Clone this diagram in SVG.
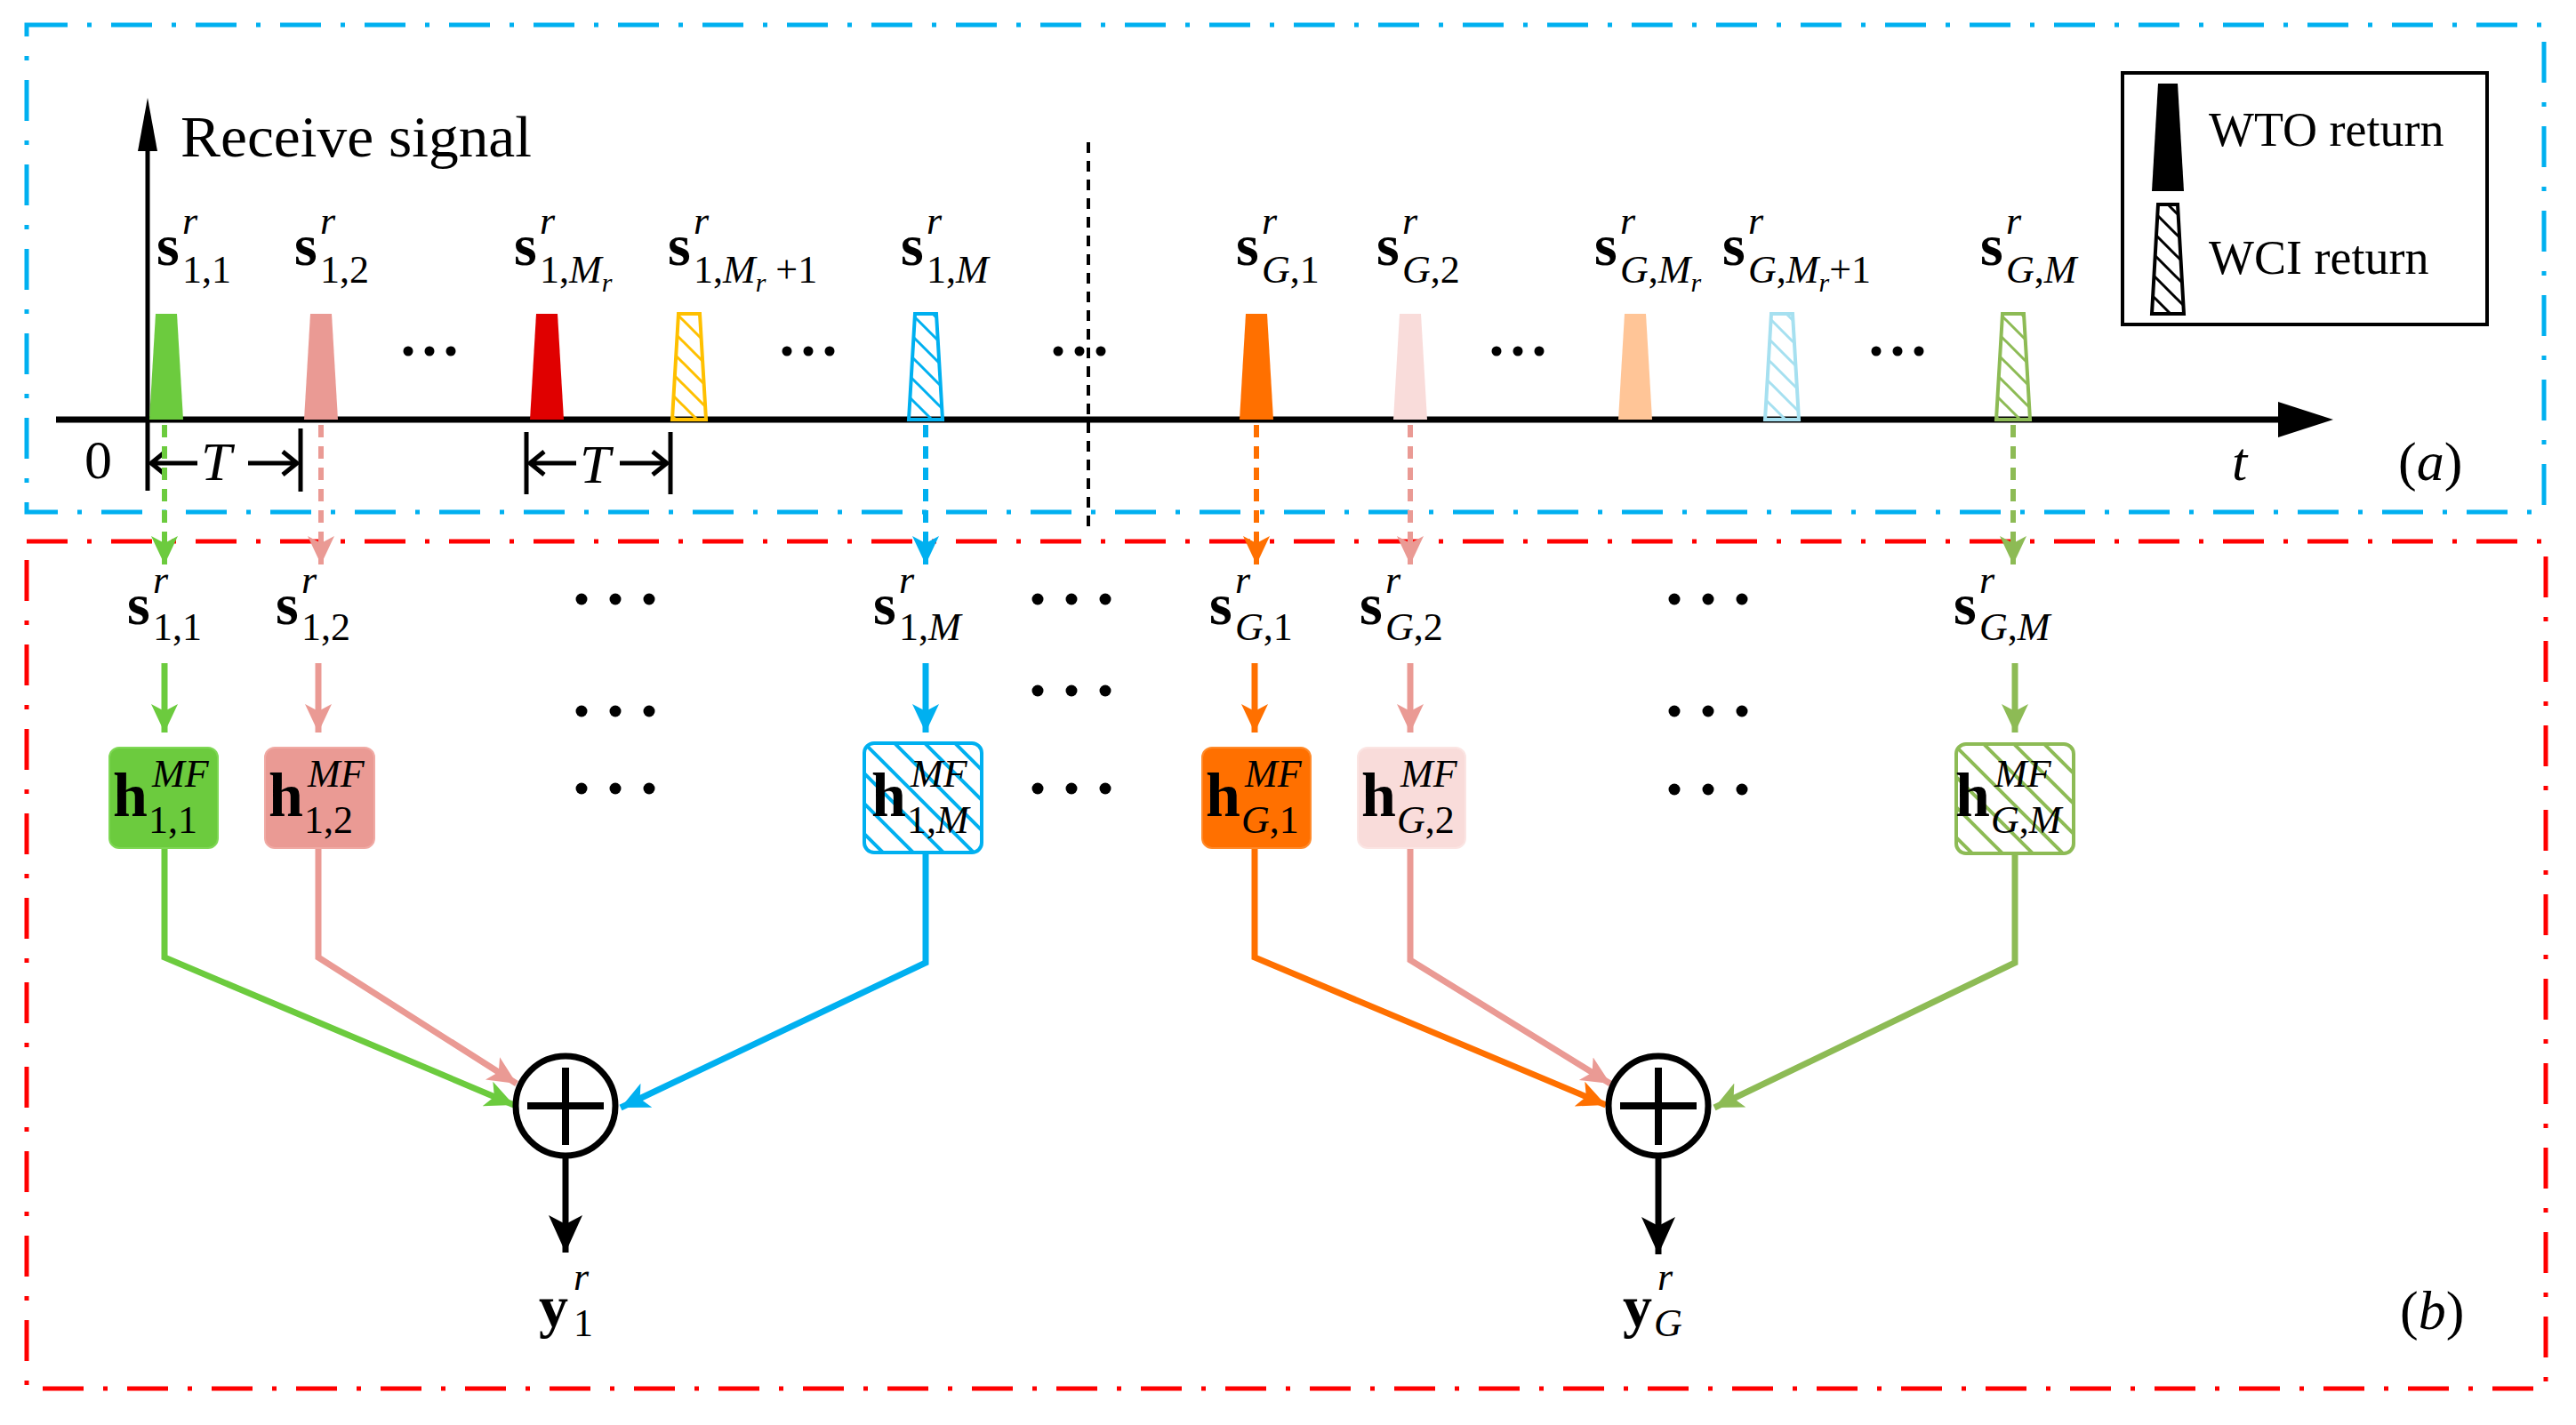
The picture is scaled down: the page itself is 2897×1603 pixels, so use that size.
<svg xmlns="http://www.w3.org/2000/svg" width="2897" height="1603" viewBox="0 0 2897 1603">
<style>
text{font-family:"Liberation Serif","Times New Roman",serif;fill:#000}
.bs{font-weight:bold;font-size:66px}
.bh{font-weight:bold;font-size:70px}
.sm{font-size:44px}
.it{font-style:italic}
.tiny{font-size:30px;font-style:italic}
.reg{font-size:62px}
.frame{fill:none;stroke-width:5;stroke-dasharray:46 22 5 22}
.dl{fill:none;stroke-width:6;stroke-dasharray:14 10}
.sl{fill:none;stroke-width:7}
.dot{fill:#000}
</style>
<defs>
<marker id="mG" markerUnits="userSpaceOnUse" markerWidth="34" markerHeight="32" refX="32" refY="15" orient="auto"><path d="M0,0 L32,15 L0,30 L8,15z" fill="#6CCB3E"/></marker>
<marker id="mP" markerUnits="userSpaceOnUse" markerWidth="34" markerHeight="32" refX="32" refY="15" orient="auto"><path d="M0,0 L32,15 L0,30 L8,15z" fill="#EA9A94"/></marker>
<marker id="mB" markerUnits="userSpaceOnUse" markerWidth="34" markerHeight="32" refX="32" refY="15" orient="auto"><path d="M0,0 L32,15 L0,30 L8,15z" fill="#00B0F0"/></marker>
<marker id="mO" markerUnits="userSpaceOnUse" markerWidth="34" markerHeight="32" refX="32" refY="15" orient="auto"><path d="M0,0 L32,15 L0,30 L8,15z" fill="#FF7000"/></marker>
<marker id="mV" markerUnits="userSpaceOnUse" markerWidth="34" markerHeight="32" refX="32" refY="15" orient="auto"><path d="M0,0 L32,15 L0,30 L8,15z" fill="#8DBB55"/></marker>
<marker id="mK" markerUnits="userSpaceOnUse" markerWidth="44" markerHeight="40" refX="42" refY="19" orient="auto"><path d="M0,0 L42,19 L0,38 L10,19z" fill="#000"/></marker>
<pattern id="hY" patternUnits="userSpaceOnUse" width="24" height="24"><path d="M-6,-6 L30,30 M-6,18 L6,30 M18,-6 L30,6" stroke="#FFC000" stroke-width="3"/></pattern>
<pattern id="hB" patternUnits="userSpaceOnUse" width="24" height="24"><path d="M-6,-6 L30,30 M-6,18 L6,30 M18,-6 L30,6" stroke="#00B0F0" stroke-width="3"/></pattern>
<pattern id="hL" patternUnits="userSpaceOnUse" width="24" height="24"><path d="M-6,-6 L30,30 M-6,18 L6,30 M18,-6 L30,6" stroke="#A6E0F0" stroke-width="3"/></pattern>
<pattern id="hV" patternUnits="userSpaceOnUse" width="24" height="24"><path d="M-6,-6 L30,30 M-6,18 L6,30 M18,-6 L30,6" stroke="#8DBB55" stroke-width="3"/></pattern>
<pattern id="hK" patternUnits="userSpaceOnUse" width="24" height="24"><path d="M-6,-6 L30,30 M-6,18 L6,30 M18,-6 L30,6" stroke="#000" stroke-width="3"/></pattern>
<pattern id="hBb" patternUnits="userSpaceOnUse" width="34" height="34"><path d="M-8,-8 L42,42 M-8,26 L8,42 M26,-8 L42,8" stroke="#00B0F0" stroke-width="4"/></pattern>
<pattern id="hVb" patternUnits="userSpaceOnUse" width="34" height="34"><path d="M-8,-8 L42,42 M-8,26 L8,42 M26,-8 L42,8" stroke="#8DBB55" stroke-width="4"/></pattern>
</defs>

<g id="frames">
<rect class="frame" x="30" y="28" width="2831" height="548" stroke="#00B0F0"/>
<rect class="frame" x="30" y="609" width="2833" height="953" stroke="#FF0000"/>
</g>

<g id="axes">
<line x1="63" y1="472" x2="2570" y2="472" stroke="#000" stroke-width="7"/>
<polygon points="2562,452 2624,472 2562,492" fill="#000"/>
<line x1="166" y1="552" x2="166" y2="160" stroke="#000" stroke-width="5"/>
<polygon points="155,170 166,110 177,170" fill="#000"/>
<text x="203" y="176" class="reg" style="font-size:66px" textLength="395" lengthAdjust="spacingAndGlyphs">Receive signal</text>
<text x="95" y="538" class="reg">0</text>
<text x="2510" y="540" class="reg it">t</text>
<text x="2697" y="540" class="reg">(<tspan class="it">a</tspan>)</text>
<line x1="1224" y1="160" x2="1224" y2="595" stroke="#000" stroke-width="4" stroke-dasharray="12 9"/>
<g stroke="#000" stroke-width="5" fill="none">
<line x1="338" y1="482" x2="338" y2="553"/>
<line x1="592" y1="486" x2="592" y2="556"/><line x1="754" y1="486" x2="754" y2="556"/>
<path d="M222,521 H170 M186,508 L170,521 L186,534"/>
<path d="M279,521 H334 M318,508 L334,521 L318,534"/>
<path d="M648,521 H596 M612,508 L596,521 L612,534"/>
<path d="M697,521 H750 M734,508 L750,521 L734,534"/>
</g>
<text x="226" y="540" class="reg it">T</text>
<text x="652" y="543" class="reg it">T</text>
</g>

<g id="pulses">
<polygon points="175,353 199,353 206,472 168,472" fill="#6CCB3E"/>
<polygon points="349,353 373,353 380,472 342,472" fill="#EA9A94"/>
<polygon points="603,353 627,353 634,472 596,472" fill="#E00000"/>
<polygon points="763,353 787,353 794,472 756,472" fill="url(#hY)" stroke="#FFC000" stroke-width="4"/>
<polygon points="1029,353 1053,353 1060,472 1022,472" fill="url(#hB)" stroke="#00B0F0" stroke-width="4"/>
<polygon points="1401,353 1425,353 1432,472 1394,472" fill="#FF7000"/>
<polygon points="1574,353 1598,353 1605,472 1567,472" fill="#F9DCDA"/>
<polygon points="1827,353 1851,353 1858,472 1820,472" fill="#FFC597"/>
<polygon points="1992,353 2016,353 2023,472 1985,472" fill="url(#hL)" stroke="#A6E0F0" stroke-width="4"/>
<polygon points="2252,353 2276,353 2283,472 2245,472" fill="url(#hV)" stroke="#8DBB55" stroke-width="4"/>
</g>

<g id="pulse-labels">
<text><tspan x="176" y="298" class="bs">s</tspan><tspan x="205" y="263" class="sm it">r</tspan><tspan x="205" y="318" class="sm">1,1</tspan></text>
<text><tspan x="331" y="298" class="bs">s</tspan><tspan x="360" y="263" class="sm it">r</tspan><tspan x="360" y="318" class="sm">1,2</tspan></text>
<text><tspan x="578" y="298" class="bs">s</tspan><tspan x="607" y="263" class="sm it">r</tspan><tspan x="607" y="318" class="sm">1,<tspan class="it">M</tspan></tspan><tspan class="tiny" dy="10">r</tspan></text>
<text><tspan x="751" y="298" class="bs">s</tspan><tspan x="780" y="263" class="sm it">r</tspan><tspan x="780" y="318" class="sm">1,<tspan class="it">M</tspan></tspan><tspan class="tiny" dy="10">r</tspan><tspan class="sm" dy="-10"> +1</tspan></text>
<text><tspan x="1013" y="298" class="bs">s</tspan><tspan x="1042" y="263" class="sm it">r</tspan><tspan x="1042" y="318" class="sm">1,<tspan class="it">M</tspan></tspan></text>
<text><tspan x="1390" y="298" class="bs">s</tspan><tspan x="1419" y="263" class="sm it">r</tspan><tspan x="1419" y="318" class="sm"><tspan class="it">G</tspan>,1</tspan></text>
<text><tspan x="1548" y="298" class="bs">s</tspan><tspan x="1577" y="263" class="sm it">r</tspan><tspan x="1577" y="318" class="sm"><tspan class="it">G</tspan>,2</tspan></text>
<text><tspan x="1793" y="298" class="bs">s</tspan><tspan x="1822" y="263" class="sm it">r</tspan><tspan x="1822" y="318" class="sm"><tspan class="it">G</tspan>,<tspan class="it">M</tspan></tspan><tspan class="tiny" dy="10">r</tspan></text>
<text><tspan x="1937" y="298" class="bs">s</tspan><tspan x="1966" y="263" class="sm it">r</tspan><tspan x="1966" y="318" class="sm"><tspan class="it">G</tspan>,<tspan class="it">M</tspan></tspan><tspan class="tiny" dy="10">r</tspan><tspan class="sm" dy="-10">+1</tspan></text>
<text><tspan x="2227" y="298" class="bs">s</tspan><tspan x="2256" y="263" class="sm it">r</tspan><tspan x="2256" y="318" class="sm"><tspan class="it">G</tspan>,<tspan class="it">M</tspan></tspan></text>
</g>

<g id="top-dots" class="dot">
<circle cx="459" cy="395" r="5.5"/><circle cx="483" cy="395" r="5.5"/><circle cx="507" cy="395" r="5.5"/>
<circle cx="885" cy="395" r="5.5"/><circle cx="909" cy="395" r="5.5"/><circle cx="933" cy="395" r="5.5"/>
<circle cx="1190" cy="395" r="5.5"/><circle cx="1214" cy="395" r="5.5"/><circle cx="1238" cy="395" r="5.5"/>
<circle cx="1683" cy="395" r="5.5"/><circle cx="1707" cy="395" r="5.5"/><circle cx="1731" cy="395" r="5.5"/>
<circle cx="2110" cy="395" r="5.5"/><circle cx="2134" cy="395" r="5.5"/><circle cx="2158" cy="395" r="5.5"/>
</g>

<g id="legend">
<rect x="2387" y="82" width="410" height="283" fill="none" stroke="#000" stroke-width="4"/>
<polygon points="2427,94 2449,94 2456,215 2420,215" fill="#000"/>
<polygon points="2427,230 2449,230 2456,353 2420,353" fill="url(#hK)" stroke="#000" stroke-width="4"/>
<text x="2484" y="164" style="font-size:54px">WTO return</text>
<text x="2484" y="308" style="font-size:54px">WCI return</text>
</g>

<g id="connectors">
<line class="dl" x1="185" y1="478" x2="185" y2="635" stroke="#6CCB3E" marker-end="url(#mG)"/>
<line class="dl" x1="361" y1="478" x2="361" y2="635" stroke="#EA9A94" marker-end="url(#mP)"/>
<line class="dl" x1="1041" y1="478" x2="1041" y2="635" stroke="#00B0F0" marker-end="url(#mB)"/>
<line class="dl" x1="1413" y1="478" x2="1413" y2="635" stroke="#FF7000" marker-end="url(#mO)"/>
<line class="dl" x1="1586" y1="478" x2="1586" y2="635" stroke="#EA9A94" marker-end="url(#mP)"/>
<line class="dl" x1="2264" y1="478" x2="2264" y2="635" stroke="#8DBB55" marker-end="url(#mV)"/>

<line class="sl" x1="185" y1="746" x2="185" y2="824" stroke="#6CCB3E" marker-end="url(#mG)"/>
<line class="sl" x1="358" y1="746" x2="358" y2="824" stroke="#EA9A94" marker-end="url(#mP)"/>
<line class="sl" x1="1041" y1="746" x2="1041" y2="824" stroke="#00B0F0" marker-end="url(#mB)"/>
<line class="sl" x1="1411" y1="746" x2="1411" y2="824" stroke="#FF7000" marker-end="url(#mO)"/>
<line class="sl" x1="1586" y1="746" x2="1586" y2="824" stroke="#EA9A94" marker-end="url(#mP)"/>
<line class="sl" x1="2266" y1="746" x2="2266" y2="824" stroke="#8DBB55" marker-end="url(#mV)"/>

<path class="sl" d="M185,954 V1077 L578,1243" stroke="#6CCB3E" marker-end="url(#mG)"/>
<path class="sl" d="M358,954 V1077 L581,1219" stroke="#EA9A94" marker-end="url(#mP)"/>
<path class="sl" d="M1041,960 V1083 L698,1246" stroke="#00B0F0" marker-end="url(#mB)"/>
<path class="sl" d="M1411,954 V1077 L1806,1243" stroke="#FF7000" marker-end="url(#mO)"/>
<path class="sl" d="M1586,954 V1080 L1811,1219" stroke="#EA9A94" marker-end="url(#mP)"/>
<path class="sl" d="M2266,961 V1083 L1928,1246" stroke="#8DBB55" marker-end="url(#mV)"/>

<line class="sl" x1="636" y1="1301" x2="636" y2="1409" stroke="#000" marker-end="url(#mK)"/>
<line class="sl" x1="1865" y1="1301" x2="1865" y2="1411" stroke="#000" marker-end="url(#mK)"/>
</g>

<g id="input-labels">
<text><tspan x="143" y="702" class="bs">s</tspan><tspan x="172" y="667" class="sm it">r</tspan><tspan x="172" y="720" class="sm">1,1</tspan></text>
<text><tspan x="310" y="702" class="bs">s</tspan><tspan x="339" y="667" class="sm it">r</tspan><tspan x="339" y="720" class="sm">1,2</tspan></text>
<text><tspan x="982" y="702" class="bs">s</tspan><tspan x="1011" y="667" class="sm it">r</tspan><tspan x="1011" y="720" class="sm">1,<tspan class="it">M</tspan></tspan></text>
<text><tspan x="1360" y="702" class="bs">s</tspan><tspan x="1389" y="667" class="sm it">r</tspan><tspan x="1389" y="720" class="sm"><tspan class="it">G</tspan>,1</tspan></text>
<text><tspan x="1529" y="702" class="bs">s</tspan><tspan x="1558" y="667" class="sm it">r</tspan><tspan x="1558" y="720" class="sm"><tspan class="it">G</tspan>,2</tspan></text>
<text><tspan x="2197" y="702" class="bs">s</tspan><tspan x="2226" y="667" class="sm it">r</tspan><tspan x="2226" y="720" class="sm"><tspan class="it">G</tspan>,<tspan class="it">M</tspan></tspan></text>
</g>

<g id="bottom-dots" class="dot">
<circle cx="654" cy="674" r="6.5"/><circle cx="692" cy="674" r="6.5"/><circle cx="730" cy="674" r="6.5"/>
<circle cx="654" cy="800" r="6.5"/><circle cx="692" cy="800" r="6.5"/><circle cx="730" cy="800" r="6.5"/>
<circle cx="654" cy="887" r="6.5"/><circle cx="692" cy="887" r="6.5"/><circle cx="730" cy="887" r="6.5"/>
<circle cx="1167" cy="674" r="6.5"/><circle cx="1205" cy="674" r="6.5"/><circle cx="1243" cy="674" r="6.5"/>
<circle cx="1167" cy="777" r="6.5"/><circle cx="1205" cy="777" r="6.5"/><circle cx="1243" cy="777" r="6.5"/>
<circle cx="1167" cy="887" r="6.5"/><circle cx="1205" cy="887" r="6.5"/><circle cx="1243" cy="887" r="6.5"/>
<circle cx="1883" cy="674" r="6.5"/><circle cx="1921" cy="674" r="6.5"/><circle cx="1959" cy="674" r="6.5"/>
<circle cx="1883" cy="800" r="6.5"/><circle cx="1921" cy="800" r="6.5"/><circle cx="1959" cy="800" r="6.5"/>
<circle cx="1883" cy="888" r="6.5"/><circle cx="1921" cy="888" r="6.5"/><circle cx="1959" cy="888" r="6.5"/>
</g>

<g id="h11"><rect x="123" y="841" width="122" height="113" rx="11" fill="#6CCB3E" stroke="#7fd855" stroke-width="2"/>
<text><tspan x="127" y="918" class="bh">h</tspan><tspan x="171" y="885" class="sm it">MF</tspan><tspan x="167" y="937" class="sm">1,1</tspan></text></g>
<g id="h12"><rect x="298" y="841" width="123" height="113" rx="11" fill="#EA9A94" stroke="#f0aaa4" stroke-width="2"/>
<text><tspan x="302" y="918" class="bh">h</tspan><tspan x="346" y="885" class="sm it">MF</tspan><tspan x="342" y="937" class="sm">1,2</tspan></text></g>
<g id="h1M"><rect x="972" y="836" width="132" height="123" rx="11" fill="url(#hBb)" stroke="#00B0F0" stroke-width="4"/>
<text><tspan x="980" y="918" class="bh">h</tspan><tspan x="1024" y="885" class="sm it">MF</tspan><tspan x="1020" y="937" class="sm">1,<tspan class="it">M</tspan></tspan></text></g>
<g id="hG1"><rect x="1352" y="841" width="122" height="113" rx="11" fill="#FF7000" stroke="#ff8a2a" stroke-width="2"/>
<text><tspan x="1356" y="918" class="bh">h</tspan><tspan x="1400" y="885" class="sm it">MF</tspan><tspan x="1396" y="937" class="sm"><tspan class="it">G</tspan>,1</tspan></text></g>
<g id="hG2"><rect x="1527" y="841" width="121" height="113" rx="11" fill="#F9DCDA" stroke="#fbe5e3" stroke-width="2"/>
<text><tspan x="1531" y="918" class="bh">h</tspan><tspan x="1575" y="885" class="sm it">MF</tspan><tspan x="1571" y="937" class="sm"><tspan class="it">G</tspan>,2</tspan></text></g>
<g id="hGM"><rect x="2200" y="837" width="132" height="123" rx="11" fill="url(#hVb)" stroke="#8DBB55" stroke-width="4"/>
<text><tspan x="2199" y="918" class="bh">h</tspan><tspan x="2243" y="885" class="sm it">MF</tspan><tspan x="2239" y="937" class="sm"><tspan class="it">G</tspan>,<tspan class="it">M</tspan></tspan></text></g>

<g id="sum1"><circle cx="636" cy="1244" r="56" fill="#fff" stroke="#000" stroke-width="7"/>
<path d="M593,1244 H679 M636,1201 V1288" stroke="#000" stroke-width="8"/></g>
<g id="sumG"><circle cx="1865" cy="1244" r="56" fill="#fff" stroke="#000" stroke-width="7"/>
<path d="M1822,1244 H1908 M1865,1201 V1288" stroke="#000" stroke-width="8"/></g>

<g id="outputs">
<text><tspan x="606" y="1492" class="bs">y</tspan><tspan x="645" y="1451" class="sm it">r</tspan><tspan x="645" y="1503" class="sm">1</tspan></text>
<text><tspan x="1825" y="1492" class="bs">y</tspan><tspan x="1864" y="1451" class="sm it">r</tspan><tspan x="1860" y="1503" class="sm it">G</tspan></text>
<text x="2699" y="1495" class="reg">(<tspan class="it">b</tspan>)</text>
</g>
</svg>
